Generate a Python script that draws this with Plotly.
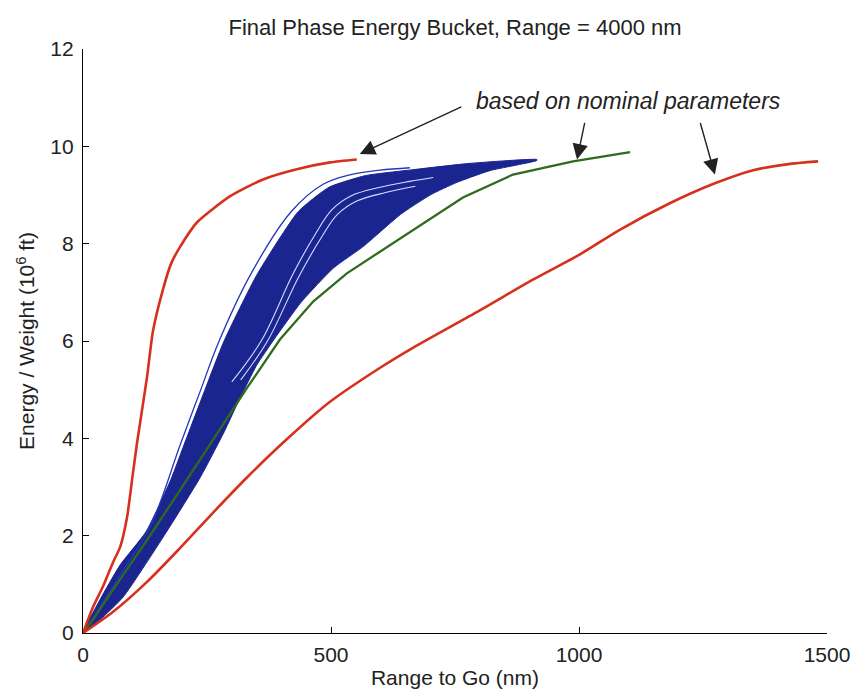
import plotly.graph_objects as go

# ---- data (x: nm, y: 10^6 ft) ----
red_steep_x = [0, 20, 40, 60, 75, 89, 99, 109, 129, 141, 161, 178, 196, 230, 296, 363, 431, 498, 552]
red_steep_y = [0, 0.53, 0.95, 1.44, 1.77, 2.39, 3.15, 3.91, 5.25, 6.2, 7.05, 7.6, 7.94, 8.44, 8.97, 9.32, 9.53, 9.67, 9.73]

red_wide_x = [0, 60, 129, 196, 262, 330, 413, 498, 599, 665, 800, 907, 1002, 1083, 1183, 1274, 1351, 1419, 1482]
red_wide_y = [0, 0.43, 1.05, 1.75, 2.47, 3.19, 4.0, 4.75, 5.45, 5.86, 6.63, 7.26, 7.78, 8.29, 8.83, 9.24, 9.51, 9.63, 9.69]

green_x = [0, 20, 60, 129, 196, 266, 331, 397, 464, 532, 599, 665, 766, 867, 988, 1103]
green_y = [0, 0.27, 0.88, 1.91, 2.94, 4.03, 5.04, 6.03, 6.81, 7.39, 7.84, 8.27, 8.95, 9.42, 9.69, 9.88]

band_left_x = [0, 34, 75, 127, 177, 206, 246, 284, 350, 434, 496, 570, 665, 780, 915]
band_left_y = [0, 0.68, 1.40, 2.08, 3.15, 3.93, 5.0, 5.99, 7.35, 8.66, 9.16, 9.40, 9.52, 9.65, 9.73]
band_right_x = [0, 34, 81, 171, 236, 285, 312, 350, 385, 440, 505, 566, 640, 700, 754, 820, 915]
band_right_y = [0, 0.27, 0.74, 2.12, 3.19, 4.14, 4.73, 5.5, 6.03, 6.8, 7.5, 7.95, 8.6, 9.0, 9.26, 9.5, 9.71]

thin_x = [0, 75, 137, 196, 236, 274, 338, 420, 484, 540, 599, 659]
thin_y = [0, 1.19, 2.22, 3.87, 4.96, 5.99, 7.37, 8.66, 9.22, 9.42, 9.51, 9.56]

gapA_x = [300, 361, 423, 468, 502, 542, 599, 659, 706]
gapA_y = [5.16, 6.03, 7.37, 8.19, 8.70, 8.99, 9.16, 9.28, 9.36]
gapB_x = [318, 372, 434, 479, 513, 553, 610, 670]
gapB_y = [5.2, 6.0, 7.3, 8.1, 8.6, 8.88, 9.05, 9.18]

x_ticks = [0, 500, 1000, 1500]
y_ticks = [0, 2, 4, 6, 8, 10, 12]

RED = "#d6301e"
GREEN = "#2f6b1e"
BLUE = "#1b2590"
BLUE_LINE = "#2238b8"
FONT = "Liberation Sans, Arial, sans-serif"
TXT = "#222"

fig = go.Figure()

# blue band (filled envelope of the trajectories)
fig.add_trace(go.Scatter(
    x=band_left_x + band_right_x[::-1],
    y=band_left_y + band_right_y[::-1],
    fill="toself", fillcolor=BLUE, mode="lines",
    line=dict(color=BLUE, width=1, shape="spline", smoothing=0.5), hoverinfo="skip", showlegend=False))
for gx, gy in ((gapA_x, gapA_y), (gapB_x, gapB_y)):
    fig.add_trace(go.Scatter(x=gx, y=gy, mode="lines", line=dict(color="#d5ddff", width=1.1, shape="spline"),
                             hoverinfo="skip", showlegend=False))
fig.add_trace(go.Scatter(x=thin_x, y=thin_y, mode="lines", line=dict(color=BLUE_LINE, width=1.3, shape="spline"),
                         hoverinfo="skip", showlegend=False))

fig.add_trace(go.Scatter(x=green_x, y=green_y, mode="lines", line=dict(color=GREEN, width=2.3),
                         showlegend=False))
fig.add_trace(go.Scatter(x=red_steep_x, y=red_steep_y, mode="lines",
                         line=dict(color=RED, width=2.6, shape="spline", smoothing=0.6), showlegend=False))
fig.add_trace(go.Scatter(x=red_wide_x, y=red_wide_y, mode="lines",
                         line=dict(color=RED, width=2.6, shape="spline", smoothing=0.8), showlegend=False))

axis_common = dict(showline=True, linecolor="black", linewidth=1.2, ticks="inside",
                   tickcolor="black", ticklen=6, showgrid=False, zeroline=False,
                   tickfont=dict(family=FONT, size=21, color=TXT), automargin=False)

# page body has an 8px margin, so the figure is sized/offset to land the axes where the reference has them
fig.update_layout(
    width=851, height=690,
    margin=dict(l=75, r=32, t=41, b=65),
    paper_bgcolor="white", plot_bgcolor="white",
    title=dict(text="Final Phase Energy Bucket, Range = 4000 nm", x=0.5, xref="paper",
               y=1 - 19 / 690, yref="container", yanchor="middle", xanchor="center",
               font=dict(family=FONT, size=22, color=TXT)),
    xaxis=dict(range=[0, 1500], tickvals=x_ticks, ticklabelstandoff=3,
               title=dict(text="Range to Go (nm)", standoff=5, font=dict(family=FONT, size=21, color=TXT)),
               **axis_common),
    yaxis=dict(range=[0, 12], tickvals=y_ticks, ticklabelstandoff=4,
               title=dict(text="Energy / Weight (10<sup>6</sup> ft)", standoff=9,
                          font=dict(family=FONT, size=21, color=TXT)),
               **axis_common),
)

fig.add_annotation(x=1099, y=10.93, text="<i>based on nominal parameters</i>", showarrow=False,
                   font=dict(family=FONT, size=23, color=TXT))
for (tx, ty, ax, ay) in [(558, 9.84, 103, -48), (996, 9.73, 8, -38), (1274, 9.42, -15, -53)]:
    fig.add_annotation(x=tx, y=ty, ax=ax, ay=ay, text="", showarrow=True, arrowhead=2,
                       arrowsize=2.2, arrowwidth=1.4, arrowcolor=TXT, standoff=0)

fig.write_html("out.html")
